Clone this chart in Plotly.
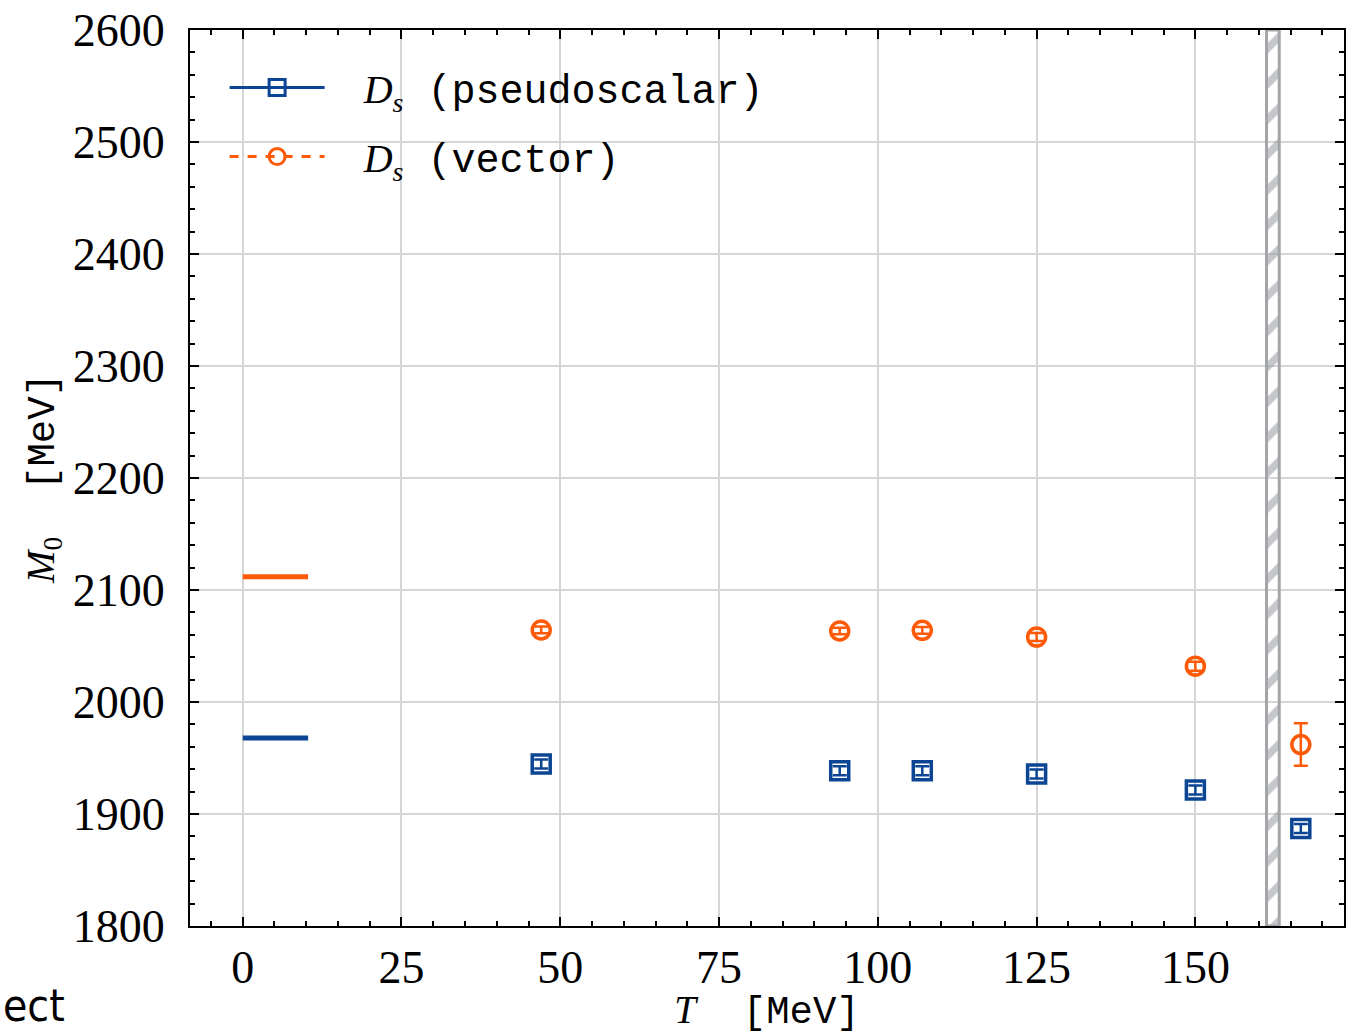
import plotly.graph_objects as go

# ---- data ----
T_vals = [47, 94, 107, 125, 150, 166.6]
M_ps = [1944.6, 1938.6, 1938.6, 1935.8, 1921.4, 1887.0]
M_ps_err = [4, 4, 4, 4, 4, 4]
M_v = [2064.3, 2063.4, 2064.0, 2058.0, 2032.0, 1962.0]
M_v_err = [3, 3, 3, 3.5, 4, 19]
exp_T = [0, 10.3]
exp_ps = 1967.9
exp_v = 2111.8
band_T = [161.2, 163.2]
y_range = [1800, 2600]
x_range = [-8.3, 173.4]
x_ticks = [0, 25, 50, 75, 100, 125, 150]
y_ticks = [1800, 1900, 2000, 2100, 2200, 2300, 2400, 2500, 2600]

BLUE = "#0b4594"
ORANGE = "#ff5a08"
GRAY = "#a3a5a8"
SERIF = "Liberation Serif"
MONO = "Liberation Mono"

fig = go.Figure()

# hatched band
fig.add_trace(go.Scatter(
    x=[band_T[0], band_T[1], band_T[1], band_T[0], band_T[0]],
    y=[y_range[0], y_range[0], y_range[1], y_range[1], y_range[0]],
    mode="lines", fill="toself", fillcolor="rgba(255,255,255,0)",
    fillpattern=dict(shape="/", fgcolor="#8e9093", bgcolor="rgba(255,255,255,0)",
                     size=25, solidity=0.3),
    line=dict(color=GRAY, width=3), showlegend=False, hoverinfo="skip"))

# experimental lines
fig.add_trace(go.Scatter(x=exp_T, y=[exp_v, exp_v], mode="lines",
                         line=dict(color=ORANGE, width=5), showlegend=False))
fig.add_trace(go.Scatter(x=exp_T, y=[exp_ps, exp_ps], mode="lines",
                         line=dict(color=BLUE, width=5), showlegend=False))

# data points
fig.add_trace(go.Scatter(
    x=T_vals, y=M_ps, mode="markers",
    marker=dict(symbol="square-open", size=18, color=BLUE, line=dict(width=3.5, color=BLUE)),
    error_y=dict(type="data", array=M_ps_err, color=BLUE, thickness=2.5, width=7),
    showlegend=False))
fig.add_trace(go.Scatter(
    x=T_vals, y=M_v, mode="markers",
    marker=dict(symbol="circle-open", size=18, color=ORANGE, line=dict(width=3.5, color=ORANGE)),
    error_y=dict(type="data", array=M_v_err, color=ORANGE, thickness=2.5, width=7),
    showlegend=False))

# legend entries
leg1 = (f"<span style='font-family:{MONO}'> </span>"
        f"<span style='font-family:{SERIF}'> <i>D<sub>s</sub></i></span>"
        f"<span style='font-family:{MONO}'> (pseudoscalar)</span>")
leg2 = (f"<span style='font-family:{MONO}'> </span>"
        f"<span style='font-family:{SERIF}'> <i>D<sub>s</sub></i></span>"
        f"<span style='font-family:{MONO}'> (vector)</span>")
fig.add_trace(go.Scatter(
    x=[None], y=[None], mode="lines+markers", name=leg1, legendgroup="g1",
    line=dict(color=BLUE, width=3),
    marker=dict(symbol="square-open", size=18, color=BLUE, line=dict(width=3, color=BLUE))))
fig.add_trace(go.Scatter(
    x=[None], y=[None], mode="lines+markers", name=leg2, legendgroup="g2",
    line=dict(color=ORANGE, width=3, dash="dash"),
    marker=dict(symbol="circle-open", size=18, color=ORANGE, line=dict(width=3, color=ORANGE))))

axis_common = dict(
    showline=True, linecolor="black", linewidth=2, mirror="ticks",
    ticks="inside", ticklen=9, tickwidth=2, tickcolor="black",
    showgrid=True, gridcolor="#d6d6d6", gridwidth=1.5, zeroline=False,
    tickfont=dict(family=SERIF, size=46, color="black"),
)

fig.update_layout(
    width=1347, height=1035,
    margin=dict(l=190, r=1, t=30, b=109),
    paper_bgcolor="white", plot_bgcolor="white",
    font=dict(family=SERIF, color="black"),
    xaxis=dict(range=x_range, tickvals=x_ticks,
               minor=dict(dtick=5, tick0=0, ticks="inside", ticklen=5, tickwidth=1.5,
                          tickcolor="black", showgrid=False),
               title=dict(text=f"<i>T</i><span style='font-family:{MONO}'>  [MeV]</span>",
                          font=dict(family=SERIF, size=39), standoff=2),
               ticklabelstandoff=0,
               **axis_common),
    yaxis=dict(range=y_range, tickvals=y_ticks,
               minor=dict(dtick=20, tick0=0, ticks="inside", ticklen=5, tickwidth=1.5,
                          tickcolor="black", showgrid=False),
               title=dict(text=f"<i>M</i><sub>0</sub><span style='font-family:{MONO}'>  [MeV]</span>",
                          font=dict(family=SERIF, size=39), standoff=6),
               ticklabelstandoff=14,
               **axis_common),
    legend=dict(x=0.03, y=0.972, xanchor="left", yanchor="top",
                bgcolor="rgba(255,255,255,0)", font=dict(family=SERIF, size=40),
                itemwidth=95, tracegroupgap=14),
    showlegend=True,
)

fig.add_annotation(text="ect", xref="paper", yref="paper", x=0, y=0,
                   xshift=-189, yshift=-107, xanchor="left", yanchor="bottom",
                   showarrow=False,
                   font=dict(family="DejaVu Sans Condensed, Noto Sans",
                             size=44, color="black"))

fig.write_html("out.html")
